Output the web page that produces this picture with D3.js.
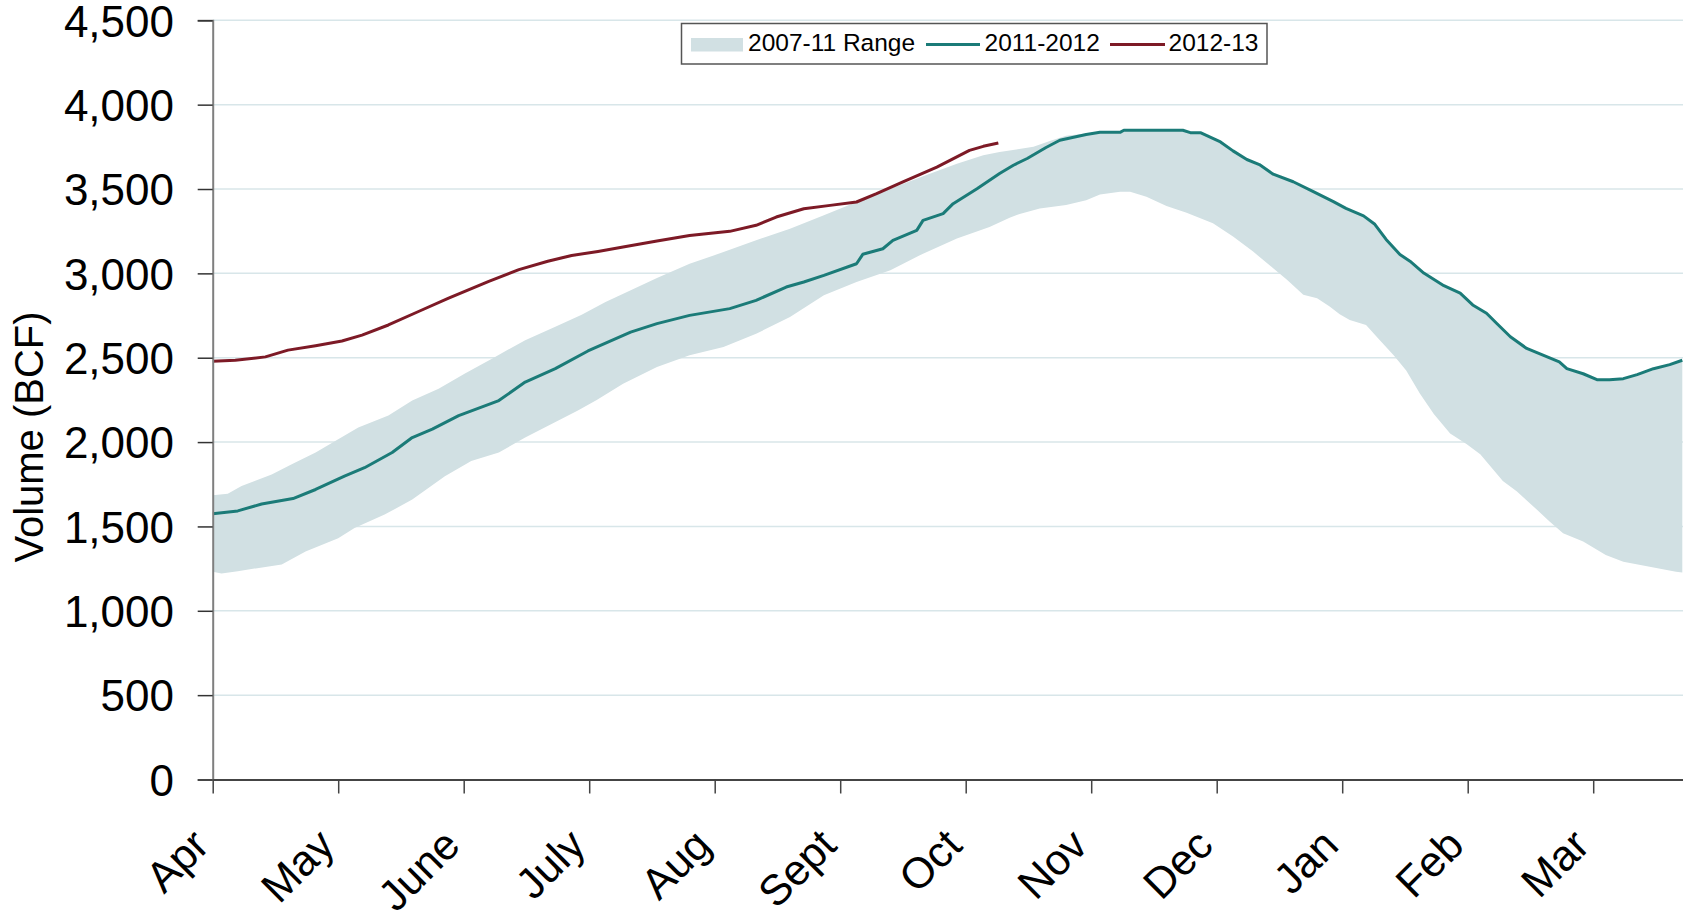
<!DOCTYPE html>
<html>
<head>
<meta charset="utf-8">
<script src="https://cdn.jsdelivr.net/npm/d3@7/dist/d3.min.js"></script>
<style>
  html, body { margin: 0; padding: 0; background: #ffffff; }
  svg { display: block; font-family: Arial, "Liberation Sans", sans-serif; }
</style>
</head>
<body>
<svg id="chart" width="1683" height="920"></svg>
<script>
// ---------------- DATA ----------------
// x position is in months after the start of April (0 = Apr, 1 = May, ...)
const monthLabels = ["Apr","May","June","July","Aug","Sept","Oct","Nov","Dec","Jan","Feb","Mar"];
const yTickValues = [0,500,1000,1500,2000,2500,3000,3500,4000,4500];
const legendLabels = ["2007-11 Range","2011-2012","2012-13"];

// 2011-2012 storage (BCF)
const storage2011_12 = [
  [0,1575],[0.2,1592],[0.39,1633],[0.64,1665],[0.82,1719],[1.05,1798],[1.21,1848],[1.43,1938],
  [1.59,2027],[1.75,2077],[1.96,2157],[2.28,2246],[2.49,2356],[2.73,2435],[2.99,2540],[3.33,2652],
  [3.54,2702],[3.8,2751],[4.12,2791],[4.33,2840],[4.57,2919],[4.71,2949],[4.87,2988],[5.13,3057],
  [5.18,3113],[5.34,3146],[5.42,3196],[5.61,3255],[5.66,3314],[5.82,3354],[5.9,3413],[6.09,3502],
  [6.27,3592],[6.38,3641],[6.49,3681],[6.64,3746],[6.75,3789],[6.96,3823],[7.07,3836],[7.23,3836],
  [7.26,3848],[7.73,3848],[7.79,3834],[7.87,3834],[8.03,3779],[8.13,3726],[8.24,3675],[8.34,3645],
  [8.45,3588],[8.61,3543],[8.77,3484],[8.93,3425],[9.03,3385],[9.17,3341],[9.26,3291],[9.35,3201],
  [9.46,3112],[9.54,3072],[9.65,3002],[9.81,2927],[9.94,2883],[10.04,2813],[10.15,2764],[10.23,2704],
  [10.34,2624],[10.47,2555],[10.6,2515],[10.73,2475],[10.79,2435],[10.92,2405],[11.03,2370],[11.13,2370],
  [11.24,2376],[11.35,2400],[11.48,2435],[11.61,2459],[11.71,2485]
];

// 2012-13 storage (BCF)
const storage2012_13 = [
  [0,2479],[0.18,2485],[0.42,2505],[0.6,2545],[0.82,2571],[1.03,2599],[1.19,2634],[1.4,2694],
  [1.64,2774],[1.88,2853],[2.2,2953],[2.44,3022],[2.67,3072],[2.86,3106],[3.07,3130],[3.27,3156],
  [3.54,3192],[3.8,3225],[4.12,3249],[4.33,3285],[4.49,3334],[4.71,3383],[4.92,3403],[5.13,3423],
  [5.29,3472],[5.5,3542],[5.77,3630],[6.03,3729],[6.14,3753],[6.26,3773]
];

// 2007-11 range, upper edge
const rangeHigh = [
  [0,1685],[0.12,1693],[0.23,1739],[0.47,1808],[0.63,1868],[0.82,1938],[1.0,2017],[1.16,2087],
  [1.4,2157],[1.59,2246],[1.8,2316],[2.01,2406],[2.25,2505],[2.49,2604],[2.73,2684],[2.94,2754],
  [3.13,2830],[3.22,2862],[3.54,2972],[3.8,3057],[4.07,3126],[4.33,3196],[4.6,3265],[4.87,3344],
  [5.13,3423],[5.4,3502],[5.66,3575],[5.93,3650],[6.14,3700],[6.27,3720],[6.54,3750],[6.67,3785],
  [6.8,3815],[6.96,3829],[7.07,3836],[7.23,3836],[7.26,3848],[7.73,3848],[7.79,3834],[7.87,3834],
  [8.03,3779],[8.13,3726],[8.24,3675],[8.34,3645],[8.45,3588],[8.61,3543],[8.77,3484],[8.93,3425],
  [9.03,3385],[9.17,3341],[9.26,3291],[9.35,3201],[9.46,3112],[9.54,3072],[9.65,3002],[9.81,2927],
  [9.94,2883],[10.04,2813],[10.15,2764],[10.23,2704],[10.34,2624],[10.47,2555],[10.6,2515],[10.73,2475],
  [10.79,2435],[10.92,2405],[11.03,2370],[11.13,2370],[11.24,2376],[11.35,2400],[11.48,2435],[11.61,2459],
  [11.71,2485]
];

// 2007-11 range, lower edge
const rangeLow = [
  [0,1231],[0.07,1221],[0.2,1235],[0.55,1275],[0.74,1351],[1.0,1430],[1.13,1490],[1.37,1570],
  [1.59,1659],[1.85,1798],[2.06,1888],[2.28,1938],[2.49,2027],[2.7,2107],[2.91,2187],[3.06,2250],
  [3.27,2346],[3.54,2445],[3.8,2514],[4.07,2563],[4.33,2642],[4.6,2741],[4.87,2870],[5.13,2949],
  [5.4,3018],[5.66,3117],[5.93,3206],[6.19,3275],[6.35,3330],[6.43,3352],[6.59,3385],[6.8,3405],
  [6.96,3434],[7.07,3468],[7.23,3484],[7.31,3484],[7.44,3454],[7.6,3399],[7.76,3360],[7.97,3297],
  [8.13,3218],[8.29,3129],[8.45,3031],[8.56,2962],[8.69,2873],[8.8,2853],[8.9,2804],[8.98,2758],
  [9.06,2724],[9.19,2694],[9.3,2604],[9.41,2515],[9.51,2425],[9.62,2286],[9.73,2167],[9.86,2051],
  [9.99,1988],[10.1,1928],[10.28,1769],[10.39,1709],[10.55,1600],[10.65,1530],[10.76,1460],[10.92,1410],
  [11.1,1331],[11.24,1291],[11.45,1261],[11.66,1231],[11.71,1227]
];

// ---------------- LAYOUT ----------------
const W = 1683, H = 920;
const plotLeft = 212.7, monthWidth = 125.5;
const plotTop = 20.3, plotBottom = 779.5;

const colors = { band: "#d1e0e3", line1112: "#1b7b78", line1213: "#7d1a26", grid: "#d8e6e9" };

const svg = d3.select("#chart");

const x = d3.scaleLinear().domain([0, 12]).range([plotLeft, plotLeft + 12 * monthWidth]);
const y = d3.scaleLinear().domain([0, 4500]).range([plotBottom, plotTop]);

svg.append("defs").append("clipPath").attr("id", "plotclip")
  .append("rect").attr("x", plotLeft).attr("y", 0).attr("width", W - plotLeft).attr("height", plotBottom);

// gridlines
svg.append("g").selectAll("line")
  .data(yTickValues.filter(v => v > 0))
  .join("line")
  .attr("x1", plotLeft).attr("x2", W)
  .attr("y1", d => y(d)).attr("y2", d => y(d))
  .attr("stroke", colors.grid).attr("stroke-width", 1.5);

const plot = svg.append("g").attr("clip-path", "url(#plotclip)");

// band
const lineGen = d3.line().x(d => x(d[0])).y(d => y(d[1]));
const bandPts = rangeHigh.concat(rangeLow.slice().reverse());
plot.append("path")
  .attr("d", lineGen(bandPts) + "Z")
  .attr("fill", colors.band)
  .attr("stroke", "none");

// lines
plot.append("path")
  .datum(storage2011_12)
  .attr("d", lineGen)
  .attr("fill", "none")
  .attr("stroke", colors.line1112)
  .attr("stroke-width", 3)
  .attr("stroke-linejoin", "round");

plot.append("path")
  .datum(storage2012_13)
  .attr("d", lineGen)
  .attr("fill", "none")
  .attr("stroke", colors.line1213)
  .attr("stroke-width", 3)
  .attr("stroke-linejoin", "round");

// y axis
const yAxis = svg.append("g")
  .attr("transform", `translate(${plotLeft},0)`)
  .call(d3.axisLeft(y).tickValues(yTickValues).tickFormat(d3.format(",")).tickSize(15).tickPadding(24));
yAxis.select(".domain").attr("stroke", "#7f7f7f").attr("stroke-width", 2);
yAxis.selectAll(".tick line").attr("stroke", "#333").attr("stroke-width", 1.5);
yAxis.selectAll(".tick text")
  .attr("font-size", 44)
  .attr("fill", "#000")
  .attr("font-family", "Arial, 'Liberation Sans', sans-serif")
  .attr("x", -(plotLeft - 174))
  .attr("dy", "0.36em");

// x axis
const xAxis = svg.append("g")
  .attr("transform", `translate(0,${plotBottom})`)
  .call(d3.axisBottom(x).tickValues(d3.range(0, 12)).tickFormat(i => monthLabels[i]).tickSize(14).tickSizeOuter(0));
xAxis.select(".domain").attr("stroke", "#444").attr("stroke-width", 2);
xAxis.selectAll(".tick line").attr("stroke", "#444").attr("stroke-width", 1.5);
xAxis.selectAll(".tick text")
  .attr("font-size", 43)
  .attr("fill", "#000")
  .attr("font-family", "Arial, 'Liberation Sans', sans-serif")
  .attr("text-anchor", "end")
  .attr("y", 0).attr("dy", 0)
  .attr("transform", "translate(-2,68) rotate(-45)");

// y title
svg.append("text")
  .attr("transform", "translate(43,437) rotate(-90)")
  .attr("text-anchor", "middle")
  .attr("font-size", 40)
  .attr("fill", "#000")
  .text("Volume (BCF)");

// legend
const lg = svg.append("g").attr("font-size", 24.5).attr("fill", "#000");
lg.append("rect")
  .attr("x", 681.5).attr("y", 23.5).attr("width", 585.5).attr("height", 40.5)
  .attr("fill", "#fff").attr("stroke", "#555").attr("stroke-width", 1.5);
lg.append("rect")
  .attr("x", 691).attr("y", 38).attr("width", 52).attr("height", 13.5)
  .attr("fill", colors.band);
lg.append("text").attr("x", 748).attr("y", 51).text(legendLabels[0]);
lg.append("line").attr("x1", 926).attr("x2", 980).attr("y1", 44.5).attr("y2", 44.5)
  .attr("stroke", colors.line1112).attr("stroke-width", 3);
lg.append("text").attr("x", 984.5).attr("y", 51).text(legendLabels[1]);
lg.append("line").attr("x1", 1110).attr("x2", 1165).attr("y1", 44.5).attr("y2", 44.5)
  .attr("stroke", colors.line1213).attr("stroke-width", 3);
lg.append("text").attr("x", 1168.5).attr("y", 51).text(legendLabels[2]);
</script>
</body>
</html>
